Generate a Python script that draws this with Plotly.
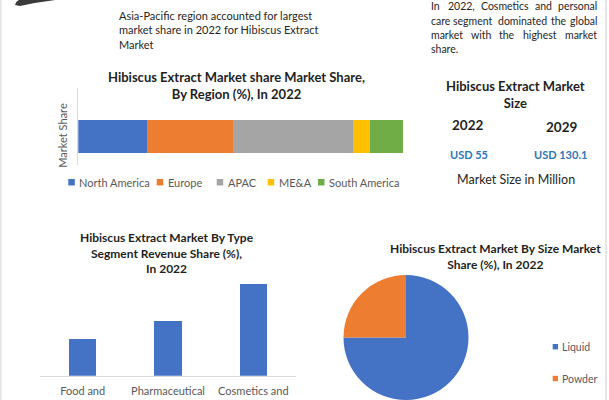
import plotly.graph_objects as go

W, H = 609, 400

# ---------------- data ----------------
regions = ["North America", "Europe", "APAC", "ME&A", "South America"]
region_share = [21.2, 26.3, 37.1, 5.2, 10.2]

types = ["Food and<br>Beverages", "Pharmaceutical", "Cosmetics and<br>Personal Care"]
type_share = [20.0, 29.8, 50.2]

sizes = ["Liquid", "Powder"]
size_share = [75, 25]

years = ["2022", "2029"]
market_size_musd = [55, 130.1]

# ---------------- styles ----------------
region_colors = ["#4472C4", "#ED7D31", "#A5A5A5", "#FFC000", "#70AD47"]
size_colors = ["#4472C4", "#ED7D31"]
FONT = "Lato"
DARK = "#1F1F1F"
BODY = "#262626"
GREY = "#595959"
BLUE_TXT = "#2E75B6"

# approximate Lato regular advance widths (em) for word placement
CW = dict(a=.51, b=.56, c=.46, d=.56, e=.52, f=.32, g=.51, h=.56, i=.24, j=.24, k=.5, l=.24, m=.84,
          n=.56, o=.56, p=.56, q=.56, r=.36, s=.42, t=.35, u=.56, v=.5, w=.76, x=.49, y=.5, z=.45)


def word_w(w, size):
    tot = 0
    for ch in w:
        if ch in CW:
            tot += CW[ch]
        elif ch.isdigit():
            tot += .58
        elif ch.isupper():
            tot += .64
        elif ch in ",.":
            tot += .2
        else:
            tot += .4
    return tot * size * 1.08


def px(x):
    return x / W


def py(y):
    return 1 - y / H


fig = go.Figure()

# stacked horizontal region bar
for name, val, col in zip(regions, region_share, region_colors):
    fig.add_trace(go.Bar(x=[val], y=[0], orientation="h", name=name,
                         marker=dict(color=col, line=dict(width=0)), width=0.6,
                         xaxis="x", yaxis="y", showlegend=False,
                         hoverinfo="name+x"))

# type bars
fig.add_trace(go.Bar(x=types, y=type_share, marker=dict(color="#4472C4", line=dict(width=0)),
                     width=0.32, xaxis="x2", yaxis="y2", showlegend=False))

# pie
fig.add_trace(go.Pie(labels=sizes, values=size_share, marker=dict(colors=size_colors, line=dict(width=0)),
                     textinfo="none", sort=False, direction="clockwise", rotation=0,
                     domain=dict(x=[px(343), px(469)], y=[0, py(275)]), showlegend=False))

ann = []


def text(x, y, s, size, color=BODY, bold=False, xanchor="center", yanchor="middle", align="center", angle=0):
    ann.append(dict(x=px(x), y=py(y), xref="paper", yref="paper", text=(f"<b>{s}</b>" if bold else s),
                    showarrow=False, xanchor=xanchor, yanchor=yanchor, align=align, textangle=angle,
                    font=dict(family=FONT, size=size, color=color)))


# top-left note
text(117, 6.5, "Asia-Pacific region accounted for largest<br>market share in 2022 for Hibiscus Extract<br>Market",
     11, BODY, xanchor="left", yanchor="top", align="left")

# top-right justified note
lines = [("In 2022, Cosmetics and personal", True, 6),
         ("care segment dominated the global", True, 20.7),
         ("market with the highest market", True, 35),
         ("share.", False, 49.3)]
L, R, FS = 429, 599, 10.5
for s, just, yy in lines:
    words = s.split(" ")
    if not just or len(words) == 1:
        text(L, yy, s, FS, BODY, xanchor="left")
        continue
    widths = [word_w(w, FS) for w in words]
    gap = (R - L - sum(widths)) / (len(words) - 1)
    x = L
    for i, w in enumerate(words):
        if i == 0:
            text(L, yy, w, FS, BODY, xanchor="left")
        elif i == len(words) - 1:
            text(R, yy, w, FS, BODY, xanchor="right")
        else:
            text(x + widths[i] / 2, yy, w, FS, BODY)
        x += widths[i] + gap

# region chart
text(236.7, 85.5, "Hibiscus Extract Market share Market Share,<br>By Region (%), In 2022", 13, DARK, bold=True)
text(61.7, 135, "Market Share", 11, GREY, angle=-90)
legend_x = [68.3, 156.7, 216.7, 267.7, 318]
shapes = []
for lx, name, col in zip(legend_x, regions, region_colors):
    shapes.append(dict(type="rect", xref="paper", yref="paper", x0=px(lx), x1=px(lx + 6.5),
                       y0=py(185.5), y1=py(179), fillcolor=col, line=dict(width=0)))
    text(lx + 9, 182.5, name, 11, GREY, xanchor="left")

# market size panel
text(515.7, 94, "Hibiscus Extract Market<br>Size", 13, DARK, bold=True)
for x, yr, y in zip([467.7, 561], years, [125, 126.7]):
    text(x, y, yr, 13.5, DARK, bold=True)
for x, v in zip([469.3, 560], market_size_musd):
    text(x, 154.3, f"USD {v:g}", 11, BLUE_TXT, bold=True)
text(515.7, 180, "Market Size in Million", 12.5, BODY)

# type chart title
text(166.7, 253, "Hibiscus Extract Market By Type<br>Segment Revenue Share (%),<br>In 2022", 12, DARK, bold=True)

# pie title + legend
text(495.7, 256, "Hibiscus Extract Market By Size Market<br>Share (%), In 2022", 12, DARK, bold=True)
for yy, name, col in zip([346.7, 378.5], sizes, size_colors):
    shapes.append(dict(type="rect", xref="paper", yref="paper", x0=px(552.7), x1=px(558),
                       y0=py(yy + 2.7), y1=py(yy - 2.7), fillcolor=col, line=dict(width=0)))
    text(559.5, yy, name, 10.5, GREY, xanchor="left")

# logo swoosh fragment & page borders
shapes.append(dict(type="path", xref="paper", yref="paper",
                   path=f"M {px(15)} {py(5)} Q {px(16)} {py(0)} {px(22)} {py(-1)} L {px(64)} {py(-1)} "
                        f"Q {px(40)} {py(1.5)} {px(20)} {py(6)} Z",
                   fillcolor="#3A3A3A", line=dict(width=0)))
for bx in [0.7, 606]:
    shapes.append(dict(type="line", xref="paper", yref="paper", x0=px(bx), x1=px(bx), y0=0, y1=1,
                       line=dict(color="#E6E6E6", width=2)))

fig.update_layout(
    width=W, height=H, margin=dict(l=0, r=0, t=0, b=0, autoexpand=False),
    paper_bgcolor="white", plot_bgcolor="white", barmode="stack", bargap=0,
    font=dict(family=FONT, size=11, color=GREY),
    xaxis=dict(domain=[px(78.3), px(403.3)], range=[0, 100], showgrid=False, zeroline=False,
               showticklabels=False, showline=False, anchor="y", fixedrange=True, automargin=False),
    yaxis=dict(domain=[py(165), py(88)], range=[-0.51, 0.877], showgrid=False, zeroline=False,
               showticklabels=False, showline=True, linecolor="#D9D9D9", linewidth=1, anchor="x",
               fixedrange=True, automargin=False),
    xaxis2=dict(domain=[px(40), px(296)], type="category", showgrid=False, zeroline=False,
                showline=True, linecolor="#D9D9D9", linewidth=1, ticks="", anchor="y2",
                ticklabelstandoff=5, automargin=False,
                tickfont=dict(family=FONT, size=11, color=GREY), fixedrange=True),
    yaxis2=dict(domain=[py(375.7), py(265.7)], range=[0, 60], visible=False, anchor="x2",
                fixedrange=True, automargin=False),
    annotations=ann, shapes=shapes,
)

css = "html,body{margin:0;padding:0;overflow:hidden;}"
fig.write_html("out.html", config={"displayModeBar": False, "staticPlot": True},
               post_script=f"var s=document.createElement('style');s.innerHTML='{css}';"
                           "document.head.appendChild(s);")
